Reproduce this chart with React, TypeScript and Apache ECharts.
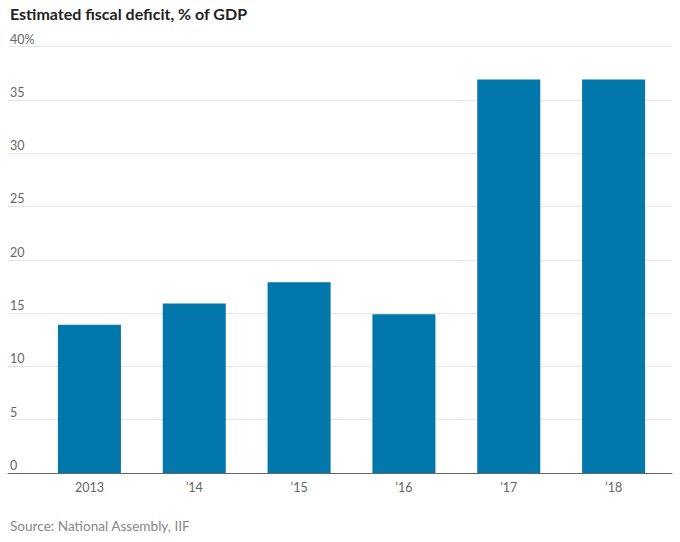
import React, { useEffect, useRef } from "react";
import * as echarts from "echarts";

const title = "Estimated fiscal deficit, % of GDP";
const source = "Source: National Assembly, IIF";
const categories = ["2013", "’14", "’15", "’16", "’17", "’18"];
const deficit = [13.9, 15.9, 17.9, 14.9, 36.9, 36.9];
const yTicks = [0, 5, 10, 15, 20, 25, 30, 35, 40];

const FONT = "Lato, 'Noto Sans', sans-serif";
const TOP = 46.5;
const BOTTOM = 69;

export default function App() {
  const ref = useRef<HTMLDivElement>(null);
  useEffect(() => {
    if (!ref.current) return;
    const chart = echarts.init(ref.current, null, { renderer: "svg" });
    chart.setOption({
      animation: false,
      backgroundColor: "#fff",
      textStyle: { fontFamily: FONT },
      title: [
        {
          text: title,
          left: 10,
          top: 5,
          padding: 0,
          textStyle: { fontFamily: FONT, fontSize: 16, fontWeight: "bold", color: "#222" },
        },
        {
          text: source,
          left: 10,
          top: 519,
          padding: 0,
          textStyle: { fontFamily: FONT, fontSize: 13.6, fontWeight: "normal", color: "#888" },
        },
      ],
      grid: [
        { left: 37, right: 14, top: TOP, bottom: BOTTOM },
        { left: 8, right: 8, top: TOP, bottom: BOTTOM },
      ],
      xAxis: [
        {
          type: "category",
          gridIndex: 0,
          data: categories,
          axisLine: { show: false },
          axisTick: { show: false },
          axisLabel: { color: "#666", fontSize: 12.5, fontFamily: FONT, margin: 8 },
        },
        {
          type: "value",
          gridIndex: 1,
          min: 0,
          max: 1,
          axisLine: { show: true, onZero: false, lineStyle: { color: "#666", width: 1 } },
          axisTick: { show: false },
          axisLabel: { show: false },
          splitLine: { show: false },
        },
      ],
      yAxis: [
        {
          type: "value",
          gridIndex: 0,
          min: 0,
          max: 40,
          interval: 5,
          axisLine: { show: false },
          axisTick: { show: false },
          axisLabel: { show: false },
          splitLine: { show: false },
        },
        {
          type: "value",
          gridIndex: 1,
          min: yTicks[0],
          max: yTicks[yTicks.length - 1],
          interval: 5,
          axisLine: { show: false },
          axisTick: { show: false },
          splitLine: { show: true, lineStyle: { color: "#e6e6e6", width: 1 } },
          axisLabel: {
            inside: true,
            margin: 2,
            align: "left",
            verticalAlign: "bottom",
            padding: [0, 0, 1, 0],
            color: "#666",
            fontSize: 12.5,
            fontFamily: FONT,
            formatter: (v: number) => (v === 40 ? v + "%" : String(v)),
          },
        },
      ],
      series: [
        {
          type: "bar",
          xAxisIndex: 0,
          yAxisIndex: 0,
          data: deficit,
          barWidth: 63,
          itemStyle: { color: "#0277ab" },
          z: 3,
        },
      ],
    });
    return () => chart.dispose();
  }, []);
  return (
    <div
      ref={ref}
      style={{ position: "fixed", left: 0, top: 0, width: 680, height: 542 }}
    />
  );
}
